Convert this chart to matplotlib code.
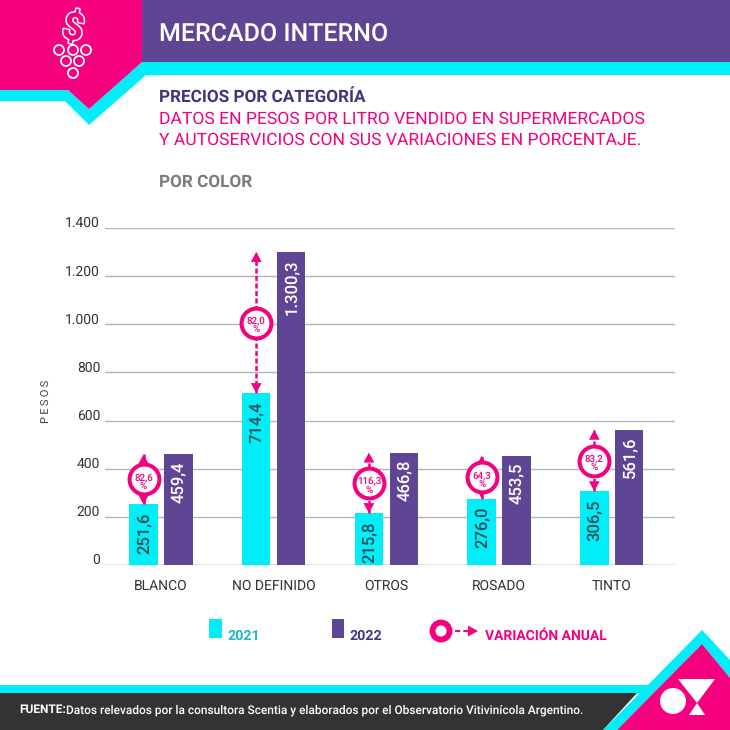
import matplotlib
matplotlib.use('Agg')
import matplotlib.pyplot as plt
from matplotlib.patches import Polygon, Circle, Rectangle
from matplotlib.transforms import ScaledTranslation
import matplotlib.patheffects as pe
import numpy as np

plt.rcParams['font.family'] = ['Roboto', 'DejaVu Sans']
plt.rcParams['text.hinting'] = 'no_hinting'

categories = ['BLANCO', 'NO DEFINIDO', 'OTROS', 'ROSADO', 'TINTO']
values_2021 = [251.6, 714.4, 215.8, 276.0, 306.5]
values_2022 = [459.4, 1300.3, 466.8, 453.5, 561.6]
label_2021 = ['251,6', '714,4', '215,8', '276,0', '306,5']
label_2022 = ['459,4', '1.300,3', '466,8', '453,5', '561,6']
variation = ['82,6', '82,0', '116,3', '64,3', '83,2']
yticks = [0, 200, 400, 600, 800, 1000, 1200, 1400]
yticklabels = ['0', '200', '400', '600', '800', '1.000', '1.200', '1.400']

PINK = '#f5007f'
CYAN = '#00eef8'
PURPLE = '#5f4694'
NAVY = '#44337f'

fig = plt.figure(figsize=(7.3, 7.3), dpi=100)

# background decoration in pixel coordinates
bg = fig.add_axes([0, 0, 1, 1])
bg.set_xlim(0, 730)
bg.set_ylim(730, 0)
bg.axis('off')

bg.add_patch(Rectangle((142, 0), 588, 63, color=PURPLE, lw=0))
bg.add_patch(Polygon([(0, 90), (68, 90), (89, 109), (142, 62), (730, 62), (730, 75),
                      (146, 75), (89, 125), (65, 101), (0, 101)], color=CYAN, lw=0))
bg.add_patch(Polygon([(0, 0), (142, 0), (142, 62), (89, 109), (68, 90), (0, 90)], color=PINK, lw=0))

# grape icon
for cx, cy in [(59, 50), (73, 50), (86, 50), (66, 61), (79, 61), (73, 73)]:
    bg.add_patch(Circle((cx, cy), 5, fc='none', ec='white', lw=1.3))
bg.text(73, 29, r'\$', color=PINK, fontsize=27, fontweight='bold', ha='center', va='center', rotation=-12,
        path_effects=[pe.Stroke(linewidth=2.2, foreground='white'), pe.Normal()])

# footer
bg.add_patch(Polygon([(0, 685), (648, 685), (702, 630), (730, 660), (730, 678), (702, 644),
                      (617, 730), (603, 730), (640, 693), (0, 693)], color=CYAN, lw=0))
bg.add_patch(Polygon([(0, 693), (637, 693), (603, 730), (0, 730)], color='#333333', lw=0))
bg.add_patch(Polygon([(617, 730), (702, 644), (730, 678), (730, 730)], color=PINK, lw=0))
bg.add_patch(Circle((673, 701), 13, color='white', lw=0))
bg.add_patch(Polygon([(678, 679), (715, 679), (697, 703)], color='white', lw=0))
bg.add_patch(Polygon([(697, 703), (689, 715), (705, 715)], color='white', lw=0))

# header text
bg.text(159, 34, 'MERCADO INTERNO', color='white', fontsize=18, va='center', fontweight='medium')
bg.text(159, 97, 'PRECIOS POR CATEGORÍA', color=NAVY, fontsize=12.3, fontweight='bold', va='center')
bg.text(159, 119, 'DATOS EN PESOS POR LITRO VENDIDO EN SUPERMERCADOS', color=PINK, fontsize=12.6, va='center')
bg.text(159, 140, 'Y AUTOSERVICIOS CON SUS VARIACIONES EN PORCENTAJE.', color=PINK, fontsize=12.6, va='center')
bg.text(159, 182, 'POR COLOR', color='#7b7b7b', fontsize=12.3, fontweight='bold', va='center')

bg.text(47, 401, 'P\u2009E\u2009S\u2009O\u2009S', color='#444444', fontsize=8, rotation=90, ha='center', va='center')

# legend
bg.add_patch(Rectangle((209, 619), 13, 19, color=CYAN, lw=0))
bg.text(227, 636, '2021', color='#22b8c4', fontsize=10.3, fontweight='bold', va='center')
bg.add_patch(Rectangle((332, 619), 12, 19, color=PURPLE, lw=0))
bg.text(350, 636, '2022', color=NAVY, fontsize=10.3, fontweight='bold', va='center')
bg.add_patch(Circle((441, 631), 8.5, fc='white', ec=PINK, lw=4.2))
bg.plot([455, 468], [631, 631], color=PINK, lw=1.5, ls=(0, (2.5, 1.5)))
bg.annotate('', xy=(478, 631), xytext=(466, 631),
            arrowprops=dict(arrowstyle='-|>,head_length=0.55,head_width=0.3', color=PINK, lw=0,
                            mutation_scale=13, shrinkA=0, shrinkB=0))
bg.text(485, 636, 'VARIACIÓN ANUAL', color=PINK, fontsize=10, fontweight='bold', va='center')

bg.text(19, 710, 'FUENTE:', color='white', fontsize=8.55, fontweight='bold', va='center')
bg.text(66, 710, 'Datos relevados por la consultora Scentia y elaborados por el Observatorio Vitivinícola Argentino.',
        color='white', fontsize=8.55, fontweight='medium', va='center')

# the chart
ax = fig.add_axes([105 / 730, 1 - 565 / 730, 570 / 730, 337 / 730])
ax.patch.set_alpha(0)
x = np.arange(len(categories))
offset = 0.155
width = 0.252
ax.bar(x - offset, values_2021, width, color=CYAN, zorder=3)
ax.bar(x + offset, values_2022, width, color=PURPLE, zorder=3)
ax.set_xlim(-0.497, 4.561)
ax.set_ylim(0, 1400)
ax.set_yticks(yticks)
ax.set_yticklabels(yticklabels, fontsize=10, color='#333333')
ax.set_xticks(x)
ax.set_xticklabels(categories, fontsize=10, color='#333333')
ax.tick_params(length=0, pad=10, axis='x')
ax.tick_params(length=0, pad=3.5, axis='y')
# tick labels sit a little above their grid lines
up = ScaledTranslation(0, 6 / 100, fig.dpi_scale_trans)
for t in ax.get_yticklabels():
    t.set_transform(t.get_transform() + up)
ax.grid(axis='y', color='#b5b5b5', lw=1, zorder=0)
for s in ax.spines.values():
    s.set_visible(False)
ax.axhline(0, color='#b5b5b5', lw=1, zorder=2)

head = '-|>,head_length=0.55,head_width=0.3'
for i in range(len(categories)):
    a = values_2021[i]
    b = values_2022[i]
    ax.annotate(label_2021[i], (i - offset, a), xytext=(0, -8), textcoords='offset pixels', rotation=90,
                ha='center', va='top', color='#26505a', fontsize=12, fontweight='medium', zorder=5)
    ax.annotate(label_2022[i], (i + offset, b), xytext=(0, -7), textcoords='offset pixels', rotation=90,
                ha='center', va='top', color='white', fontsize=12, fontweight='medium', zorder=5)

    # variation arrow between the two values
    xa = i - offset
    ax.plot([xa, xa], [a, b], color=PINK, lw=1.8, ls=(0, (2, 1)), zorder=6)
    ax.annotate('', xy=(xa, b), xytext=(xa, b - 30),
                arrowprops=dict(arrowstyle=head, color=PINK, lw=0, mutation_scale=13, shrinkA=0, shrinkB=0), zorder=6)
    ax.annotate('', xy=(xa, a), xytext=(xa, a + 30),
                arrowprops=dict(arrowstyle=head, color=PINK, lw=0, mutation_scale=13, shrinkA=0, shrinkB=0), zorder=6)
    mid = (a + b) / 2
    ax.plot([xa], [mid], 'o', ms=21.5, mfc='white', mec=PINK, mew=2.9, zorder=7)
    ax.annotate(variation[i], (xa, mid), xytext=(0, 2), textcoords='offset pixels', color=PINK,
                fontsize=7, fontweight='medium', ha='center', va='center', zorder=8)
    ax.annotate('%', (xa, mid), xytext=(0, -7), textcoords='offset pixels', color=PINK,
                fontsize=7, fontweight='medium', ha='center', va='center', zorder=8)

fig.savefig('out.png', dpi=100)
